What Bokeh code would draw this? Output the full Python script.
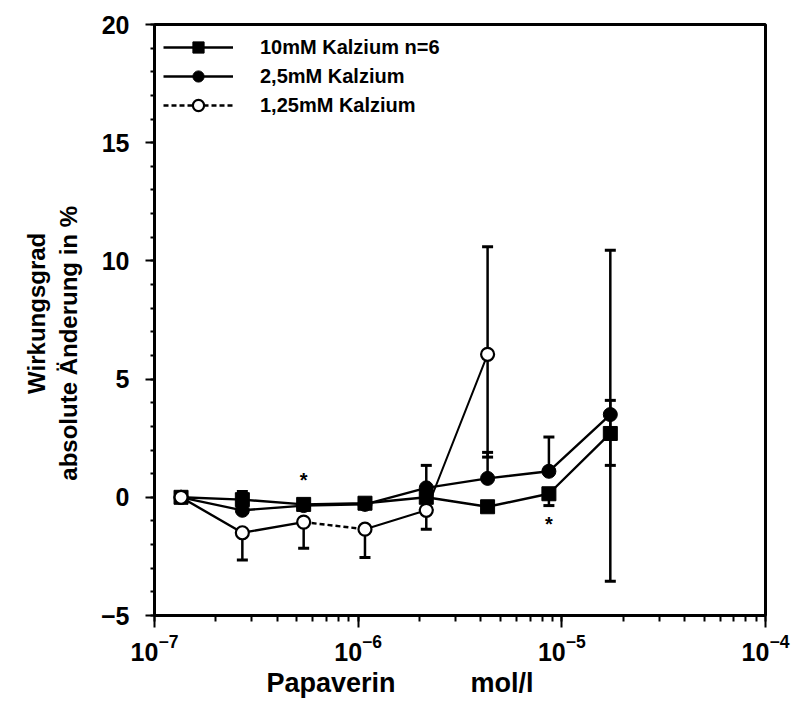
import math
from bokeh.plotting import figure
from bokeh.models import (Range1d, FixedTicker, LogTicker, Whisker, ColumnDataSource,
                          Legend, LegendItem, Title, TeeHead)
from bokeh.core.properties import value
from bokeh.embed import file_html
from bokeh.resources import INLINE

# ---------------- data ----------------
dose = [1.35e-7, 2.7e-7, 5.4e-7, 1.08e-6, 2.16e-6, 4.32e-6, 8.64e-6, 1.73e-5]

ca10_mean = [0.0, -0.1, -0.3, -0.25, 0.0, -0.4, 0.15, 2.7]
ca10_up = [0, 0.35, 0, 0, 0, 0, 0, 1.4]
ca10_dn = [0, 0, 0, 0, 0, 0, 0.5, 1.35]

ca25_mean = [0.0, -0.55, -0.35, -0.3, 0.4, 0.8, 1.1, 3.5]
ca25_up = [0, 0, 0, 0, 0.95, 1.1, 1.45, 6.95]
ca25_dn = [0, 0, 0, 0, 0, 0, 0, 7.05]

ca125_dose = [1.35e-7, 2.7e-7, 5.4e-7, 1.08e-6, 2.16e-6, 4.32e-6]
ca125_mean = [0.0, -1.5, -1.05, -1.35, -0.55, 6.05]
ca125_up = [0, 0, 0, 0, 0, 4.55]
ca125_dn = [0, 1.15, 1.1, 1.2, 0.8, 4.35]

star_x = [5.4e-7, 8.64e-6]
star_y = [0.75, -1.15]

labels = ["10mM Kalzium n=6", "2,5mM Kalzium", "1,25mM Kalzium"]
y_ticks = [-5, 0, 5, 10, 15, 20]
y_minor = list(range(-5, 21))
NB = "\u00a0"
ZW = "\u200b"
y_title = ZW + NB * 2 + "Wirkungsgrad\nabsolute Änderung in %" + NB * 7 + ZW
x_title = "Papaverin" + NB * 10 + "mol/l"

FONT = "Liberation Sans"

# ---------------- figure ----------------
p = figure(width=801, height=708, x_axis_type="log",
           x_range=Range1d(1e-7, 1e-4), y_range=Range1d(-5, 20),
           output_backend="svg", toolbar_location=None,
           min_border_left=154, min_border_right=36,
           min_border_top=24, min_border_bottom=93)
p.grid.visible = False
p.outline_line_color = "black"
p.outline_line_width = 3
p.background_fill_color = "white"
p.border_fill_color = "white"

# axes
for ax in (p.xaxis[0], p.yaxis[0]):
    ax.axis_line_width = 2.5
    ax.major_tick_line_width = 2
    ax.minor_tick_line_width = 2
    ax.major_tick_in = 0
    ax.minor_tick_in = 0
    ax.major_label_text_font = FONT
    ax.major_label_text_font_style = "bold"
    ax.major_label_text_font_size = "25px"
    ax.major_label_text_color = "black"

p.yaxis.ticker = FixedTicker(ticks=y_ticks, minor_ticks=y_minor)
p.yaxis.major_tick_out = 9
p.yaxis.minor_tick_out = 4
p.yaxis.major_label_standoff = 16
p.yaxis.axis_label = y_title
p.yaxis.axis_label_text_font = FONT
p.yaxis.axis_label_text_font_style = "bold"
p.yaxis.axis_label_text_font_size = "24px"
p.yaxis.axis_label_text_color = "black"
p.yaxis.axis_label_standoff = 16

p.xaxis.ticker = LogTicker(num_minor_ticks=10)
p.xaxis.major_tick_out = 12
p.xaxis.minor_tick_out = 6
p.xaxis.major_label_standoff = 6

p.add_layout(Title(text=x_title, align="left", offset=112, standoff=4,
                   text_font=FONT, text_font_style="bold", text_font_size="27px",
                   text_color="black"), "below")

# ---------------- error bars ----------------
def add_whiskers(xs, mean, up, dn):
    ux = [x for x, u in zip(xs, up) if u > 0]
    um = [m for m, u in zip(mean, up) if u > 0]
    uu = [m + u for m, u in zip(mean, up) if u > 0]
    dx = [x for x, d in zip(xs, dn) if d > 0]
    dm = [m for m, d in zip(mean, dn) if d > 0]
    dd = [m - d for m, d in zip(mean, dn) if d > 0]
    if ux:
        src = ColumnDataSource(dict(base=ux, lower=um, upper=uu))
        p.add_layout(Whisker(source=src, base="base", lower="lower", upper="upper",
                             line_width=2.5, line_color="black",
                             upper_head=TeeHead(size=11, line_width=3, line_color="black"),
                             lower_head=None))
    if dx:
        src = ColumnDataSource(dict(base=dx, lower=dd, upper=dm))
        p.add_layout(Whisker(source=src, base="base", lower="lower", upper="upper",
                             line_width=2.5, line_color="black",
                             lower_head=TeeHead(size=11, line_width=3, line_color="black"),
                             upper_head=None))

add_whiskers(dose, ca10_mean, ca10_up, ca10_dn)
add_whiskers(dose, ca25_mean, ca25_up, ca25_dn)
add_whiskers(ca125_dose, ca125_mean, ca125_up, ca125_dn)

# ---------------- lines ----------------
l10 = p.line(dose, ca10_mean, line_color="black", line_width=2.4)
l25 = p.line(dose, ca25_mean, line_color="black", line_width=2.4)
p.line(ca125_dose[0:3], ca125_mean[0:3], line_color="black", line_width=2.4)
l125 = p.line(ca125_dose[2:4], ca125_mean[2:4], line_color="black", line_width=2.4,
              line_dash="5 3")
p.line(ca125_dose[3:6], ca125_mean[3:6], line_color="black", line_width=2.0)

# ---------------- markers ----------------
s10 = p.scatter(dose, ca10_mean, marker="square", size=14, fill_color="black",
                line_color="black")
s25 = p.scatter(dose, ca25_mean, marker="circle", size=14, fill_color="black",
                line_color="black")
s125 = p.scatter(ca125_dose, ca125_mean, marker="circle", size=13, fill_color="white",
                 line_color="black", line_width=2.2)

# significance stars
p.text(x=star_x, y=star_y, text=["*", "*"], text_font=value(FONT),
       text_font_style="bold", text_font_size="20px", text_align="center",
       text_baseline="middle", text_color="black")

# ---------------- legend ----------------
legend = Legend(items=[LegendItem(label=labels[0], renderers=[l10, s10]),
                       LegendItem(label=labels[1], renderers=[l25, s25]),
                       LegendItem(label=labels[2], renderers=[l125, s125])],
                location="top_left", margin=0, padding=9,
                glyph_width=70, glyph_height=28, spacing=1, label_standoff=27,
                label_text_font=FONT, label_text_font_style="bold",
                label_text_font_size="20px", label_text_color="black",
                border_line_alpha=0, background_fill_alpha=0)
p.add_layout(legend)

open("out.html", "w").write(file_html(p, INLINE))
